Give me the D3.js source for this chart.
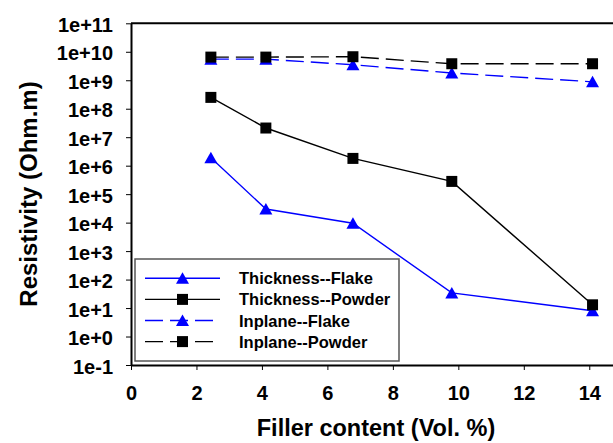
<!DOCTYPE html>
<html>
<head>
<meta charset="utf-8">
<script src="https://cdn.jsdelivr.net/npm/d3@7"></script>
<style>
  body { margin: 0; background: #fff; }
  text { font-family: "Liberation Sans", Arial, sans-serif; font-weight: bold; }
</style>
</head>
<body>
<script>
// filler content (vol. %)
const filler = [2.44, 4.12, 6.78, 9.8, 14.1];

const thicknessFlake  = [1.9e6, 3.0e4, 9.5e3, 34, 8];
const thicknessPowder = [2.5e8, 2.1e7, 1.8e6, 2.8e5, 13];
const inplaneFlake    = [5.5e9, 5.5e9, 3.5e9, 1.8e9, 8.8e8];
const inplanePowder   = [6.5e9, 6.5e9, 6.7e9, 3.8e9, 3.8e9];

const seriesNames = ["Thickness--Flake", "Thickness--Powder", "Inplane--Flake", "Inplane--Powder"];
const yTickLabels = ["1e-1", "1e+0", "1e+1", "1e+2", "1e+3", "1e+4", "1e+5", "1e+6",
                     "1e+7", "1e+8", "1e+9", "1e+10", "1e+11"];

const width = 613, height = 443;

const svg = d3.select("body").append("svg")
  .attr("width", width).attr("height", height);

const xScale = d3.scaleLinear().domain([0, 15]).range([131, 622]);
const yScale = d3.scaleLog().domain([1e-1, 1e11]).range([365, 23.3]);

const series = [
  { name: seriesNames[0], values: thicknessFlake,  color: "#0000ff", dash: null,   shape: "tri" },
  { name: seriesNames[1], values: thicknessPowder, color: "#000000", dash: null,   shape: "sq" },
  { name: seriesNames[2], values: inplaneFlake,    color: "#0000ff", dash: "18,7", shape: "tri" },
  { name: seriesNames[3], values: inplanePowder,   color: "#000000", dash: "18,7", shape: "sq" }
];

// triangle centred on its bounding box, like the spreadsheet marker
function marker(shape) {
  if (shape === "sq") return "M-5.5,-5.5H5.5V5.5H-5.5Z";
  return "M0,-6L6.5,5.5H-6.5Z";
}

// top frame line
svg.append("line")
  .attr("x1", 131).attr("x2", width)
  .attr("y1", yScale(1e11)).attr("y2", yScale(1e11))
  .style("stroke", "#000").style("stroke-width", "2px");

// axes
const xAxis = d3.axisBottom(xScale).tickValues([0, 2, 4, 6, 8, 10, 12, 14])
  .tickSize(5).tickSizeOuter(0).tickFormat(d3.format("d"));
const yAxis = d3.axisLeft(yScale)
  .tickValues(yTickLabels.map(s => +s))
  .tickSize(5).tickSizeOuter(0)
  .tickFormat((d, i) => yTickLabels[i]);

const gx = svg.append("g").attr("transform", "translate(0,365)").call(xAxis);
const gy = svg.append("g").attr("transform", "translate(131,0)").call(yAxis);

gx.select(".domain").style("stroke-width", "2px");
gy.select(".domain").style("stroke-width", "2px");
gx.selectAll(".tick line").style("stroke-width", "1px");
gy.selectAll(".tick line").style("stroke-width", "1px");
gx.selectAll(".tick text").attr("y", 35).attr("dy", null).style("font-size", "20px")
  .style("font-family", "'Liberation Sans', Arial, sans-serif").style("font-weight", "bold");
gy.selectAll(".tick text").attr("x", -18).attr("dy", "0.4em").style("font-size", "20px")
  .style("font-family", "'Liberation Sans', Arial, sans-serif").style("font-weight", "bold");

// axis titles
svg.append("text")
  .attr("x", 376).attr("y", 436)
  .attr("text-anchor", "middle")
  .style("font-size", "23.5px")
  .text("Filler content (Vol. %)");

svg.append("text")
  .attr("transform", "translate(37,194) rotate(-90)")
  .attr("text-anchor", "middle")
  .style("font-size", "24px")
  .text("Resistivity (Ohm.m)");

// lines and markers
const line = d3.line()
  .x((d, i) => xScale(filler[i]))
  .y(d => yScale(d));

series.forEach(s => {
  svg.append("path")
    .datum(s.values)
    .attr("d", line)
    .style("fill", "none")
    .style("stroke", s.color)
    .style("stroke-width", "1.4px")
    .style("stroke-dasharray", s.dash);

  svg.selectAll(null)
    .data(s.values)
    .enter()
    .append("path")
    .attr("d", marker(s.shape))
    .attr("transform", (d, i) => "translate(" + xScale(filler[i]) + "," + yScale(d) + ")")
    .style("fill", s.color);
});

// legend
const legend = svg.append("g");
legend.append("rect")
  .attr("x", 135).attr("y", 259)
  .attr("width", 264).attr("height", 102)
  .style("fill", "#fff")
  .style("stroke", "#555")
  .style("stroke-width", "1.5px");

series.forEach((s, i) => {
  const y = 278.3 + i * 21.1;
  legend.append("line")
    .attr("x1", 145).attr("x2", s.dash ? 214 : 220)
    .attr("y1", y).attr("y2", y)
    .style("stroke", s.color)
    .style("stroke-width", "1.4px")
    .style("stroke-dasharray", s.dash);
  legend.append("path")
    .attr("d", marker(s.shape))
    .attr("transform", "translate(182.5," + y + ")")
    .style("fill", s.color);
  legend.append("text")
    .attr("x", 239).attr("y", y + 6)
    .style("font-size", "16.5px")
    .text(s.name);
});
</script>
</body>
</html>
